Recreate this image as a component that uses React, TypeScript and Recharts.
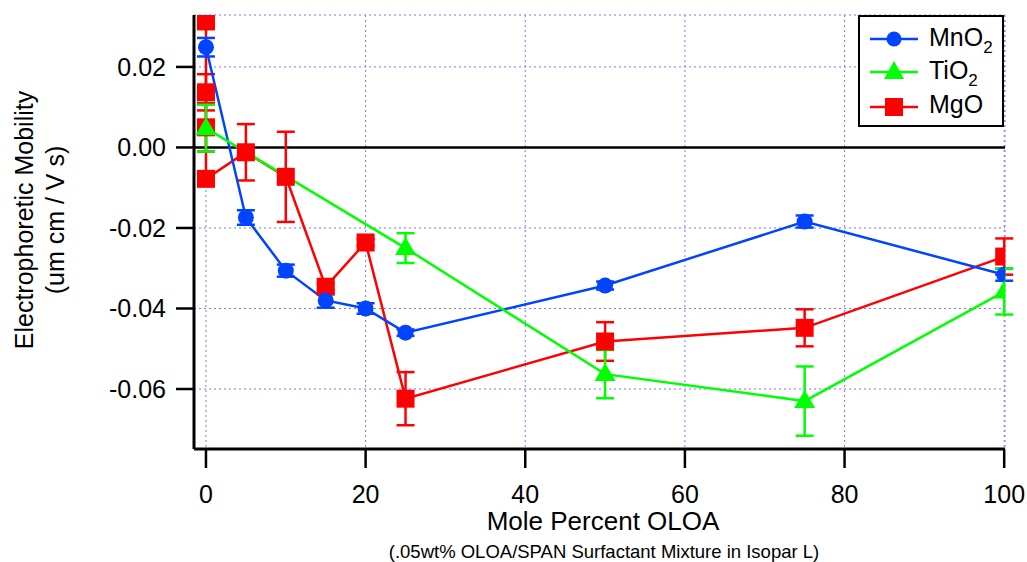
import React from "react";
import {
  ComposedChart,
  Line,
  XAxis,
  YAxis,
  CartesianGrid,
  ReferenceLine,
  ErrorBar,
  Legend,
  Label,
} from "recharts";

// Mole percent OLOA for each sample set
const mnO2X = [0, 5, 10, 15, 20, 25, 50, 75, 100];
const mnO2Y = [0.0249, -0.0174, -0.0306, -0.038, -0.04, -0.046, -0.0343, -0.0184, -0.0316];
const mnO2Err = [0.0023, 0.0018, 0.0015, 0.0018, 0.0013, 0.0008, 0.001, 0.0015, 0.0015];

const tiO2X = [0, 25, 50, 75, 100];
const tiO2Y = [0.0048, -0.025, -0.0563, -0.063, -0.0358];
const tiO2Err = [0.0058, 0.0037, 0.006, 0.0086, 0.0057];

const mgOX = [0, 0, 0, 0, 5, 10, 15, 20, 25, 50, 75, 100];
const mgOY = [0.0313, 0.0137, 0.005, -0.0078, -0.0012, -0.0073, -0.0346, -0.0236, -0.0624, -0.0482, -0.0448, -0.0271];
const mgOErr = [0.0006, 0.0045, 0.006, 0.0008, 0.007, 0.0112, 0.0008, 0.0008, 0.0066, 0.0048, 0.0046, 0.0045];

const xTicks = [0, 20, 40, 60, 80, 100];
const yTicks = [0.02, 0, -0.02, -0.04, -0.06];

const BLUE = "#0044ff";
const GREEN = "#00ff00";
const RED = "#ff0000";
const FONT = "'Liberation Sans', Arial, sans-serif";

const toRows = (xs: number[], ys: number[], errs: number[]) =>
  xs.map((x, i) => ({ x, y: ys[i], err: errs[i] }));

const mnO2Data = toRows(mnO2X, mnO2Y, mnO2Err);
const tiO2Data = toRows(tiO2X, tiO2Y, tiO2Err);
const mgOData = toRows(mgOX, mgOY, mgOErr);

const circleDot = (props: any) => {
  const { cx, cy, index } = props;
  return <circle key={`c-${index}`} cx={cx} cy={cy} r={8} fill={BLUE} />;
};

const triangleDot = (props: any) => {
  const { cx, cy, index } = props;
  return (
    <polygon
      key={`t-${index}`}
      points={`${cx},${cy - 11} ${cx - 10.5},${cy + 7} ${cx + 10.5},${cy + 7}`}
      fill={GREEN}
    />
  );
};

const squareDot = (props: any) => {
  const { cx, cy, index } = props;
  return <rect key={`s-${index}`} x={cx - 9} y={cy - 9} width={18} height={18} fill={RED} />;
};

const renderLegend = () => (
  <svg width={146} height={113} style={{ display: "block" }}>
    <rect x={1} y={1} width={144} height={110} fill="#fff" stroke="#000" strokeWidth={2} />
    <line x1={12} x2={60} y1={24} y2={24} stroke={BLUE} strokeWidth={2.5} />
    <circle cx={36} cy={24} r={7.5} fill={BLUE} />
    <text x={71} y={31} fontSize={25} fontFamily={FONT} fill="#000">
      MnO<tspan fontSize={17} dy={7}>2</tspan>
    </text>
    <line x1={12} x2={60} y1={57} y2={57} stroke={GREEN} strokeWidth={2.5} />
    <polygon points="36,46 26,64 46,64" fill={GREEN} />
    <text x={71} y={64} fontSize={25} fontFamily={FONT} fill="#000">
      TiO<tspan fontSize={17} dy={7}>2</tspan>
    </text>
    <line x1={12} x2={60} y1={92} y2={92} stroke={RED} strokeWidth={2.5} />
    <rect x={27} y={83} width={18} height={18} fill={RED} />
    <text x={71} y={98} fontSize={25} fontFamily={FONT} fill="#000">
      MgO
    </text>
  </svg>
);

const YTitle = () => (
  <g fontFamily={FONT} fontSize={25} fill="#000">
    <text x={24} y={220} textAnchor="middle" dominantBaseline="central" transform="rotate(-90 24 220)">
      Electrophoretic Mobility
    </text>
    <text x={55} y={220} textAnchor="middle" dominantBaseline="central" transform="rotate(-90 55 220)">
      (um cm / V s)
    </text>
  </g>
);

const XTitle = () => (
  <g fontFamily={FONT} fill="#000">
    <text x={603} y={530} textAnchor="middle" fontSize={26}>
      Mole Percent OLOA
    </text>
    <text x={604} y={558} textAnchor="middle" fontSize={18.5}>
      (.05wt% OLOA/SPAN Surfactant Mixture in Isopar L)
    </text>
  </g>
);

export default function App() {
  return (
    <div style={{ position: "absolute", left: 0, top: 0, background: "#fff" }}>
      <ComposedChart width={1027} height={562} margin={{ top: 15, right: 22, bottom: 0, left: 0 }}>
        <CartesianGrid stroke="#7878f0" strokeDasharray="2 3" strokeWidth={1} />
        <XAxis
          type="number"
          dataKey="x"
          domain={[-1.5, 100.1]}
          ticks={xTicks}
          allowDataOverflow
          height={113}
          tickSize={19}
          tickMargin={17}
          axisLine={{ stroke: "#000", strokeWidth: 3 }}
          tickLine={{ stroke: "#000", strokeWidth: 2.5 }}
          tick={{ fill: "#000", fontSize: 25, fontFamily: FONT }}
        >
          <Label content={<XTitle />} />
        </XAxis>
        <YAxis
          type="number"
          domain={[-0.0749, 0.0329]}
          ticks={yTicks}
          allowDataOverflow
          width={194}
          tickSize={18}
          tickMargin={10}
          tickFormatter={(v: number) => v.toFixed(2)}
          axisLine={{ stroke: "#000", strokeWidth: 3 }}
          tickLine={{ stroke: "#000", strokeWidth: 2.5 }}
          tick={{ fill: "#000", fontSize: 25, fontFamily: FONT }}
        >
          <Label content={<YTitle />} />
        </YAxis>
        <ReferenceLine y={0} stroke="#000" strokeWidth={2.5} />
        <Line
          data={mgOData}
          dataKey="y"
          name="MgO"
          stroke={RED}
          strokeWidth={2.5}
          dot={squareDot}
          activeDot={false}
          isAnimationActive={false}
        >
          <ErrorBar dataKey="err" direction="y" width={9} stroke={RED} strokeWidth={2.5} />
        </Line>
        <Line
          data={mnO2Data}
          dataKey="y"
          name="MnO2"
          stroke={BLUE}
          strokeWidth={2.5}
          dot={circleDot}
          activeDot={false}
          isAnimationActive={false}
        >
          <ErrorBar dataKey="err" direction="y" width={9} stroke={BLUE} strokeWidth={2.5} />
        </Line>
        <Line
          data={tiO2Data}
          dataKey="y"
          name="TiO2"
          stroke={GREEN}
          strokeWidth={2.5}
          dot={triangleDot}
          activeDot={false}
          isAnimationActive={false}
        >
          <ErrorBar dataKey="err" direction="y" width={9} stroke={GREEN} strokeWidth={2.5} />
        </Line>
        <Legend
          layout="horizontal"
          verticalAlign="middle"
          content={renderLegend}
          wrapperStyle={{ left: 858, top: 15, width: 146, height: 113 }}
        />
      </ComposedChart>
    </div>
  );
}
